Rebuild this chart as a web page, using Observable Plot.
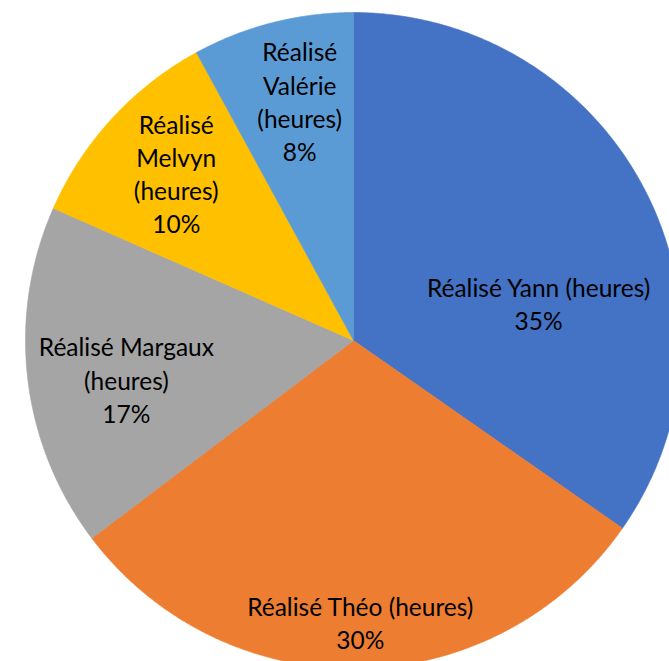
<!DOCTYPE html>
<html><head><meta charset="utf-8">
<script src="https://cdn.jsdelivr.net/npm/d3@7"></script>
<script src="https://cdn.jsdelivr.net/npm/@observablehq/plot@0.6"></script>
<style>html,body{margin:0;padding:0;background:#fff}</style>
</head><body><div id="chart"></div>
<script>
// ---- data ----
const names = ["Réalisé Yann (heures)", "Réalisé Théo (heures)", "Réalisé Margaux (heures)", "Réalisé Melvyn (heures)", "Réalisé Valérie (heures)"];
const wrappedNames = ["Réalisé Yann (heures)", "Réalisé Théo (heures)", "Réalisé Margaux\n(heures)", "Réalisé\nMelvyn\n(heures)", "Réalisé\nValérie\n(heures)"];
const shares = [34.7, 30.0, 16.9, 10.45, 7.95];
const colors = ["#4472C4", "#ED7D31", "#A5A5A5", "#FFC000", "#5B9BD5"];

// ---- layout (not data) ----
const W = 669, H = 661, CX = 353, CY = 340, R = 328;
// label placement: radius fraction and angular shift (deg) from slice mid-angle
const labelRadius = [0.575, 0.863, 0.703, 0.741, 0.745];
const labelShift = [16.5, -0.3, -3.3, 0.6, 1.6];

const total = d3.sum(shares);
let cum = 0;
const slices = shares.map((v, i) => {
  const a0 = cum / total * 2 * Math.PI;
  cum += v;
  const a1 = cum / total * 2 * Math.PI;
  return {name: names[i], value: v, a0, a1, i};
});

const polys = [];
for (const s of slices) {
  const n = Math.max(8, Math.ceil((s.a1 - s.a0) * 120));
  polys.push({name: s.name, x: 0, y: 0});
  for (let k = 0; k <= n; k++) {
    const a = s.a0 + (s.a1 - s.a0) * k / n;
    polys.push({name: s.name, x: Math.sin(a), y: Math.cos(a)});
  }
  polys.push({name: s.name, x: 0, y: 0});
}

const labels = slices.map(s => {
  const mid = (s.a0 + s.a1) / 2 + labelShift[s.i] * Math.PI / 180;
  const r = labelRadius[s.i];
  return {
    x: r * Math.sin(mid),
    y: r * Math.cos(mid),
    text: wrappedNames[s.i] + "\n" + Math.round(s.value / total * 100) + "%"
  };
});

const chart = Plot.plot({
  width: W, height: H,
  margin: 0,
  x: {domain: [-CX / R, (W - CX) / R], range: [0, W], axis: null},
  y: {domain: [-(H - CY) / R, CY / R], range: [H, 0], axis: null},
  color: {domain: names, range: colors},
  style: {background: "#fff"},
  marks: [
    Plot.line(polys, {x: "x", y: "y", z: "name", fill: "name", stroke: "name", strokeWidth: 0.6, curve: "linear"}),
    Plot.text(labels, {
      x: "x", y: "y", text: "text",
      lineAnchor: "middle", lineHeight: 1.355, dy: -1.5,
      fontSize: 24.5, fontFamily: "Lato, 'Open Sans', sans-serif", fill: "#000"
    })
  ]
});
document.getElementById("chart").append(chart);
</script>
</body></html>
